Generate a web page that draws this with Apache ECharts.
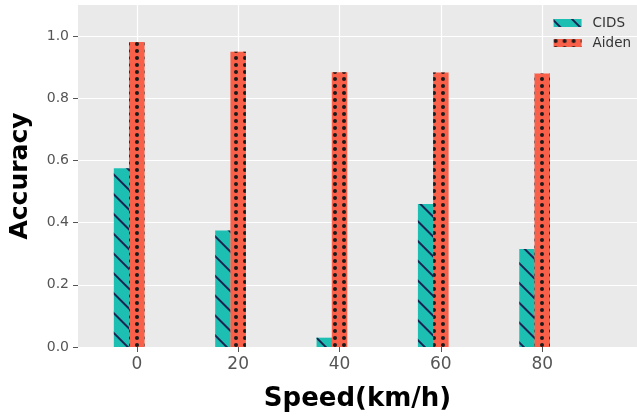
<!DOCTYPE html>
<html>
<head>
<meta charset="utf-8">
<script src="https://cdn.jsdelivr.net/npm/echarts@6/dist/echarts.min.js"></script>
<style>html,body{margin:0;padding:0;background:#fff}#c{width:637px;height:417px}</style>
</head>
<body>
<div id="c"></div>
<script>
const speeds = [0, 20, 40, 60, 80];
const cidsAcc = [0.575, 0.375, 0.030, 0.460, 0.315];
const aidenAcc = [0.981, 0.950, 0.884, 0.883, 0.880];
const yTicks = [0, 0.2, 0.4, 0.6, 0.8, 1.0];
const barOffset = 3; // CIDS bar sits one bar-width left of the tick

const chart = echarts.init(document.getElementById('c'), null, {renderer: 'canvas'});
const font = 'DejaVu Sans';
chart.setOption({
  backgroundColor: '#ffffff',
  animation: false,
  grid: {left: 77, right: 0, top: 5, bottom: 64, show: true, backgroundColor: '#EAEAEA', borderWidth: 0},
  legend: {
    orient: 'vertical', right: 1, top: 11, itemWidth: 28, itemHeight: 8, itemGap: 6,
    icon: 'rect',
    textStyle: {fontFamily: font, fontSize: 13.5, color: '#333', lineHeight: 14, padding: [0, 0, 0, 6]},
    data: ['CIDS', 'Aiden']
  },
  xAxis: {
    type: 'value', min: -11.6, max: 98.7, splitNumber: 5,
    name: 'Speed(km/h)', nameLocation: 'middle', nameGap: 39,
    nameTextStyle: {fontFamily: font, fontSize: 26, fontWeight: 'bold', color: '#000'},
    axisLine: {show: false, onZero: false},
    axisTick: {show: true, length: 5, lineStyle: {color: '#555'}, customValues: speeds},
    axisLabel: {fontFamily: font, fontSize: 17, color: '#555', margin: 9, customValues: speeds},
    splitLine: {show: true, lineStyle: {color: '#ffffff', width: 1.2}}
  },
  yAxis: {
    type: 'value', min: 0, max: 1.1, interval: 0.2,
    name: 'Accuracy', nameLocation: 'middle', nameGap: 45,
    nameTextStyle: {fontFamily: font, fontSize: 25, fontWeight: 'bold', color: '#000'},
    axisLine: {show: false, onZero: false},
    axisTick: {show: true, length: 5, lineStyle: {color: '#555'}, customValues: yTicks},
    axisLabel: {fontFamily: font, fontSize: 14, color: '#555', margin: 9, customValues: yTicks,
      formatter: v => v.toFixed(1)},
    splitLine: {show: true, lineStyle: {color: '#ffffff', width: 1.2}}
  },
  series: [
    {
      name: 'CIDS', type: 'bar', barWidth: 15.5, barGap: '-100%',
      data: speeds.map((s, i) => [s - barOffset, cidsAcc[i]]),
      itemStyle: {color: '#1EBFB3', decal: {symbol: 'rect', symbolSize: 1, color: '#1b2352',
        dashArrayX: [1, 0], dashArrayY: [1.5, 12], rotation: Math.PI / 4}}
    },
    {
      name: 'Aiden', type: 'bar', barWidth: 15.5, barGap: '-100%',
      data: speeds.map((s, i) => [s, aidenAcc[i]]),
      itemStyle: {color: '#F9604A', decal: {symbol: 'circle', symbolSize: 1, color: '#1a1a1a',
        dashArrayX: [3.4, 4.1], dashArrayY: [3.4, 2.9]}}
    }
  ]
});
</script>
</body>
</html>
